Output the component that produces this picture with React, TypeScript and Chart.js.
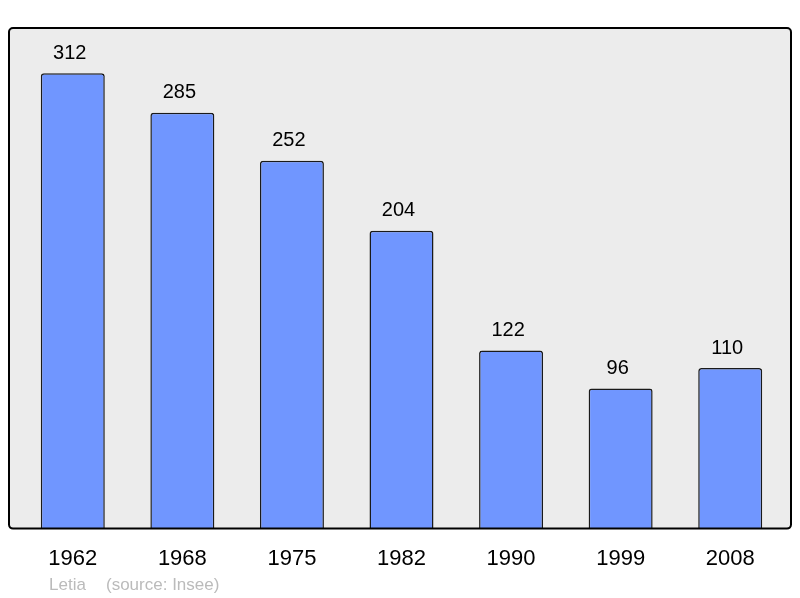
import React, { useEffect, useRef } from "react";
import { Chart, registerables } from "chart.js";

Chart.register(...registerables);

const years = ["1962", "1968", "1975", "1982", "1990", "1999", "2008"];
const population = [312, 285, 252, 204, 122, 96, 110];
const yMax = 343;
const footerLeft = "Letia";
const footerRight = "(source: Insee)";

const boxPlugin = {
  id: "boxPlugin",
  beforeDatasetsDraw(chart: any) {
    const { ctx, chartArea } = chart;
    const l = chartArea.left - 9;
    const r = chartArea.right + 6;
    const t = chartArea.top;
    const b = chartArea.bottom;
    ctx.save();
    ctx.beginPath();
    ctx.roundRect(l, t, r - l, b - t, 4);
    ctx.fillStyle = "#ececec";
    ctx.fill();
    ctx.restore();
  },
  afterDatasetsDraw(chart: any) {
    const { ctx, chartArea } = chart;
    const l = chartArea.left - 9;
    const r = chartArea.right + 6;
    const t = chartArea.top;
    const b = chartArea.bottom;
    ctx.save();
    ctx.beginPath();
    ctx.roundRect(l, t, r - l, b - t, 4);
    ctx.lineWidth = 2;
    ctx.strokeStyle = "#000";
    ctx.stroke();
    // value labels
    const meta = chart.getDatasetMeta(0);
    ctx.fillStyle = "#000";
    ctx.font = "20px 'Liberation Sans', Arial, sans-serif";
    ctx.textAlign = "center";
    ctx.textBaseline = "middle";
    meta.data.forEach((bar: any, i: number) => {
      ctx.fillText(String(population[i]), bar.x - 3, bar.y - 20);
    });
    // footer
    ctx.fillStyle = "#bbbbbb";
    ctx.font = "17px 'Liberation Sans', Arial, sans-serif";
    ctx.textAlign = "left";
    ctx.fillText(footerLeft, l + 40, 585);
    ctx.fillText(footerRight, l + 97, 585);
    ctx.restore();
  },
};

export default function App() {
  const ref = useRef<HTMLCanvasElement>(null);
  useEffect(() => {
    if (!ref.current) return;
    const chart = new Chart(ref.current, {
      type: "bar",
      data: {
        labels: years,
        datasets: [
          {
            data: population,
            backgroundColor: "rgb(112,150,255)",
            borderColor: "#1a1a1a",
            borderWidth: 1.5,
            borderRadius: { topLeft: 3, topRight: 3, bottomLeft: 0, bottomRight: 0 },
            borderSkipped: "bottom",
            categoryPercentage: 1,
            barPercentage: 0.584,
          },
        ],
      },
      options: {
        responsive: false,
        animation: false,
        layout: { padding: { top: 28, left: 18, right: 15, bottom: 9 } },
        plugins: { legend: { display: false }, tooltip: { enabled: false } },
        scales: {
          x: {
            grid: { display: false, drawTicks: false, tickLength: 0 },
            border: { display: false },
            ticks: {
              color: "#000",
              padding: 17,
              font: { size: 22, family: "'Liberation Sans', Arial, sans-serif" },
              maxRotation: 0,
            },
          },
          y: { display: false, min: 0, max: yMax },
        },
      },
      plugins: [boxPlugin],
    });
    return () => chart.destroy();
  }, []);
  return (
    <div style={{ position: "fixed", left: 0, top: 0, width: 800, height: 598, background: "#fff" }}>
      <canvas ref={ref} width={800} height={598} />
    </div>
  );
}
